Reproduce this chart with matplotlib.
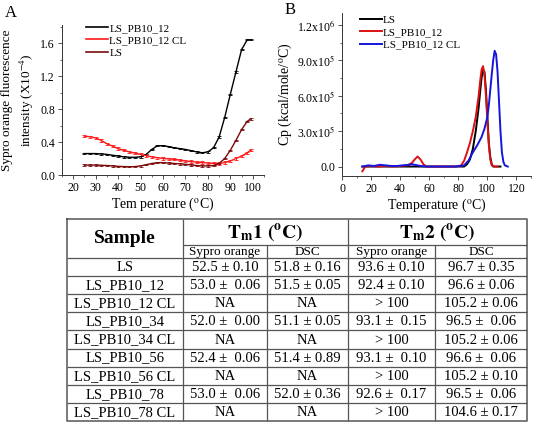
import matplotlib
matplotlib.use("Agg")
import matplotlib.pyplot as plt
import numpy as np
from matplotlib.ticker import MultipleLocator, FixedLocator
from matplotlib.lines import Line2D

plt.rcParams['font.family'] = ['Liberation Serif', 'DejaVu Serif']
plt.rcParams['mathtext.fontset'] = 'stix'

# ---------------- Panel A data (Sypro orange) ----------------
tA = [25, 27.5, 30, 32.5, 35, 37.5, 40, 42.5, 45, 47.5, 50, 52.5, 55, 57.5, 60, 62.5,
      65, 67.5, 70, 72.5, 75, 77.5, 80, 82.5, 85, 87.5, 90, 92.5, 95, 97.5, 99]
a_pb12 = [0.26, 0.26, 0.26, 0.255, 0.25, 0.24, 0.23, 0.22, 0.215, 0.215, 0.22, 0.25,
          0.31, 0.355, 0.355, 0.345, 0.33, 0.32, 0.31, 0.295, 0.28, 0.27, 0.28, 0.33,
          0.46, 0.7, 0.98, 1.25, 1.52, 1.64, 1.64]
a_pb12cl = [0.47, 0.465, 0.45, 0.42, 0.38, 0.35, 0.32, 0.30, 0.28, 0.265, 0.25, 0.235,
            0.22, 0.21, 0.2, 0.195, 0.19, 0.18, 0.17, 0.162, 0.155, 0.15, 0.145, 0.14,
            0.14, 0.15, 0.17, 0.2, 0.23, 0.27, 0.3]
a_ls = [0.12, 0.12, 0.12, 0.118, 0.115, 0.11, 0.105, 0.102, 0.1, 0.102, 0.11, 0.125,
        0.14, 0.15, 0.15, 0.145, 0.14, 0.135, 0.13, 0.122, 0.115, 0.11, 0.11, 0.115,
        0.14, 0.2, 0.3, 0.42, 0.55, 0.65, 0.68]
a_err = [0.008, 0.014, 0.008]
labelsA = ["LS_PB10_12", "LS_PB10_12 CL", "LS"]
colorsA = ["#000000", "#ff1a1a", "#7a0a0a"]

# ---------------- Panel B data (DSC), Cp in units of 1e5 ----------------
tB_ls = [14, 30, 50, 70, 84, 86, 88, 90, 92, 94, 95, 96, 97, 98, 99, 100, 101, 102,
         103, 104, 106, 109]
b_ls = [0, 0, 0, 0, 0, 0.2, 0.6, 1.5, 3.0, 5.0, 6.3, 7.5, 8.2, 8.0, 6.5, 4.2, 2.0,
        0.8, 0.2, 0.0, 0.0, 0.0]
tB_pb12 = [14, 16, 20, 25, 30, 35, 40, 45, 48, 50, 52, 54, 56, 58, 62, 70, 78, 82, 84,
           86, 88, 90, 92, 94, 95, 96, 97, 98, 99, 100, 101, 102, 103, 105, 107]
b_pb12 = [-0.4, 0.0, 0.05, 0.0, 0.05, 0.0, 0.05, 0.1, 0.3, 0.6, 0.85, 0.6, 0.2, 0.0,
          0.0, 0.0, 0.0, 0.1, 0.5, 1.2, 2.0, 3.0, 4.2, 6.0, 7.2, 8.2, 8.5, 7.8, 6.0,
          3.8, 1.8, 0.6, 0.1, 0.0, 0.0]
tB_cl = [14, 18, 22, 26, 30, 34, 38, 42, 46, 48, 50, 54, 58, 62, 70, 78, 84, 87, 90,
         93, 96, 98, 100, 101, 102, 103, 104, 105, 106, 107, 108, 109, 110, 111, 112, 114]
b_cl = [0.0, 0.1, 0.05, 0.15, 0.1, 0.05, 0.05, 0.1, 0.15, 0.2, 0.15, 0.05, 0.0, 0.0,
        0.0, 0.0, 0.1, 0.5, 1.2, 1.8, 2.5, 3.2, 4.2, 5.2, 6.5, 7.8, 9.0, 9.8, 9.5, 8.0,
        5.5, 3.0, 1.2, 0.4, 0.1, 0.0]
labelsB = ["LS", "LS_PB10_12", "LS_PB10_12 CL"]
colorsB = ["#000000", "#dd1111", "#1515dd"]
yticksB = [0.0, 3.0, 6.0, 9.0, 12.0]
yticklabelsB = ["0.0", r"3.0x10$^5$", r"6.0x10$^5$", r"9.0x10$^5$", r"1.2x10$^6$"]

# ---------------- Table data ----------------
samples = ["LS", "LS_PB10_12", "LS_PB10_12 CL", "LS_PB10_34", "LS_PB10_34 CL",
           "LS_PB10_56", "LS_PB10_56 CL", "LS_PB10_78", "LS_PB10_78 CL"]
tm1_sypro = ["52.5 ± 0.10", "53.0 ±  0.06", "NA", "52.0 ±  0.00", "NA",
             "52.4 ±  0.06", "NA", "53.0 ±  0.06", "NA"]
tm1_dsc = ["51.8 ± 0.16", "51.5 ± 0.05", "NA", "51.1 ± 0.05", "NA",
           "51.4 ± 0.89", "NA", "52.0 ± 0.36", "NA"]
tm2_sypro = ["93.6 ± 0.10", "92.4 ± 0.10", "> 100", "93.1 ±  0.15", "> 100",
             "93.1 ±  0.10", "> 100", "92.6 ±  0.17", "> 100"]
tm2_dsc = ["96.7 ± 0.35", "96.6 ± 0.06", "105.2 ± 0.06", "96.5 ±  0.06", "105.2 ± 0.06",
           "96.6 ±  0.06", "105.2 ± 0.10", "96.5 ±  0.06", "104.6 ± 0.17"]
group_headers = [r"$\mathbf{T_m}$$\mathbf{1\ (^{o}C)}$", r"$\mathbf{T_m}$$\mathbf{2\ (^{o}C)}$"]
sub_headers = ["Sypro orange", "DSC", "Sypro orange", "DSC"]

W, H = 533, 422
fig = plt.figure(figsize=(W / 100, H / 100), dpi=100)

def fr(l, t, r, b):
    return [l / W, 1 - b / H, (r - l) / W, (b - t) / H]

# ---------------- Panel A ----------------
axA = fig.add_axes(fr(62, 25, 264, 175))
seriesA = [a_pb12, a_pb12cl, a_ls]
for ys, lab, c, e in zip(seriesA, labelsA, colorsA, a_err):
    axA.errorbar(tA, ys, yerr=e, color=c, lw=1.0, elinewidth=0.6, capsize=1.5,
                 capthick=0.6)
axA.set_xlim(15, 105)
axA.set_ylim(0, 1.82)
axA.xaxis.set_major_locator(FixedLocator([20, 30, 40, 50, 60, 70, 80, 90, 100]))
axA.xaxis.set_minor_locator(MultipleLocator(5))
axA.yaxis.set_major_locator(FixedLocator([0.0, 0.4, 0.8, 1.2, 1.6]))
axA.yaxis.set_minor_locator(MultipleLocator(0.2))
axA.yaxis.set_major_formatter(plt.FuncFormatter(lambda v, p: f"{v:.1f}"))
for s in ["top", "right"]:
    axA.spines[s].set_visible(False)
for s in ["left", "bottom"]:
    axA.spines[s].set_linewidth(0.7)
    axA.spines[s].set_color("#333333")
axA.tick_params(which="major", length=3, width=0.6, labelsize=8.5, pad=2, color="#333333")
axA.tick_params(which="minor", length=1.5, width=0.5, color="#333333")
axA.set_xlabel(r"Tem perature ($^{\rm o}$C)", fontsize=10, labelpad=1)
axA.set_ylabel("Sypro orange fluorescence\n" + r"intensity (X10$^{-4}$)", fontsize=9.5,
               labelpad=3, linespacing=1.35)
handlesA = [Line2D([], [], color=c, lw=1.2) for c in colorsA]
axA.legend(handlesA, labelsA, loc="upper left", bbox_to_anchor=(0.07, 1.08),
           frameon=False, fontsize=8, handlelength=2.0, handletextpad=0.1,
           labelspacing=0.25)
fig.text(11 / W, 1 - 13 / H, "A", fontsize=12, va="center", ha="center")

# ---------------- Panel B ----------------
axB = fig.add_axes(fr(342, 13, 531, 176))
seriesB = [(tB_ls, b_ls), (tB_pb12, b_pb12), (tB_cl, b_cl)]
for (xs, ys), lab, c, z in zip(seriesB, labelsB, colorsB, [2, 3, 4]):
    axB.plot(xs, ys, color=c, lw=1.4, label=lab, zorder=z)
axB.set_xlim(0, 130)
axB.set_ylim(-0.8, 13.0)
axB.xaxis.set_major_locator(FixedLocator([0, 20, 40, 60, 80, 100, 120]))
axB.xaxis.set_minor_locator(MultipleLocator(10))
axB.yaxis.set_major_locator(FixedLocator(yticksB))
axB.yaxis.set_minor_locator(MultipleLocator(1.5))
axB.set_yticklabels(yticklabelsB)
for s in ["top", "right"]:
    axB.spines[s].set_visible(False)
for s in ["left", "bottom"]:
    axB.spines[s].set_linewidth(0.7)
    axB.spines[s].set_color("#333333")
axB.tick_params(which="major", length=3, width=0.6, labelsize=8.5, pad=2, color="#333333")
axB.tick_params(which="minor", length=1.5, width=0.5, color="#333333")
axB.set_xlabel(r"Temperature ($^{\rm o}$C)", fontsize=10, labelpad=1)
axB.set_ylabel(r"Cp (kcal/mole/$^{\rm o}$C)", fontsize=10, labelpad=2)
axB.legend(loc="upper left", bbox_to_anchor=(0.04, 1.05), frameon=False,
           fontsize=8, handlelength=2.0, handletextpad=0.1, labelspacing=0.25)
fig.text(290 / W, 1 - 10 / H, "B", fontsize=12, va="center", ha="center")

# ---------------- Table ----------------
axT = fig.add_axes([0, 0, 1, 1])
axT.set_xlim(0, W)
axT.set_ylim(H, 0)
axT.axis("off")
axT.patch.set_alpha(0)

cx = [67, 183, 267, 348, 435, 527]
top, mid, subb = 219, 245, 258
bot = 421
nrow = len(samples)
rh = (bot - subb) / nrow
lc = "#555555"
axT.plot([cx[0], cx[-1], cx[-1], cx[0], cx[0]], [top, top, bot, bot, top], color=lc, lw=1.1)
axT.vlines([cx[1], cx[3]], top, bot, color=lc, lw=0.9)
axT.vlines([cx[2], cx[4]], mid, bot, color=lc, lw=0.9)
axT.hlines(mid, cx[1], cx[-1], color=lc, lw=0.9)
for i in range(nrow):
    y = subb + i * rh
    axT.hlines(y, cx[0], cx[-1], color=lc, lw=0.9)

axT.text((cx[0] + cx[1]) / 2, (top + subb) / 2, "Sample", fontsize=14,
         fontweight="bold", ha="center", va="center")
for k, gh in enumerate(group_headers):
    axT.text((cx[1 + 2 * k] + cx[3 + 2 * k]) / 2, (top + mid) / 2 + 1, gh, fontsize=14,
             ha="center", va="center")
for k, sh in enumerate(sub_headers):
    axT.text((cx[1 + k] + cx[2 + k]) / 2, (mid + subb) / 2 + 0.5, sh, fontsize=9.5,
             ha="center", va="center")
cols = [samples, tm1_sypro, tm1_dsc, tm2_sypro, tm2_dsc]
for j, col in enumerate(cols):
    for i, txt in enumerate(col):
        axT.text((cx[j] + cx[j + 1]) / 2, subb + (i + 0.5) * rh + 0.5, txt,
                 fontsize=10.5, ha="center", va="center")

fig.savefig("out.png", dpi=100)
